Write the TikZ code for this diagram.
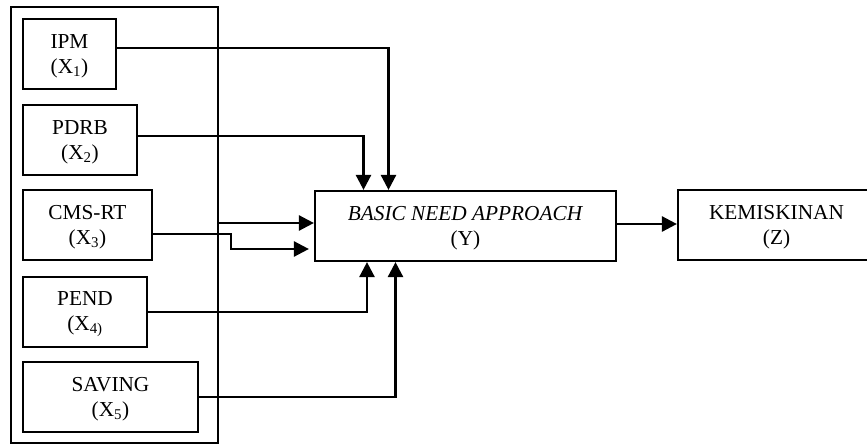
\documentclass[tikz,border=0pt]{standalone}
\usepackage{fontspec}
\setmainfont{Liberation Serif}
\usetikzlibrary{arrows.meta}
\newcommand{\topstrut}{\rule{0pt}{18.5pt}}
\begin{document}
\begin{tikzpicture}[x=1pt,y=-1pt,
  box/.style={draw,line width=1.6pt,inner sep=0pt,align=center,font=\fontsize{21.3}{25.3}\selectfont},
  bigbox/.style={box,line width=2.2pt},
  conn/.style={line width=2.6pt},
  arr/.style={conn,-{Triangle[length=15pt,width=15pt]}}]
\clip (0,0) rectangle (867,444);
\node[draw,line width=2.2pt,minimum width=207pt,minimum height=436pt,inner sep=0pt] (frame) at (114.5,225) {};
\node[box,minimum width=93pt,minimum height=70pt] (ipm) at (69.5,54) {\topstrut IPM\\(X\textsubscript{1})};
\node[box,minimum width=114pt,minimum height=70pt] (pdrb) at (80,140) {\topstrut PDRB\\(X\textsubscript{2})};
\node[box,minimum width=129pt,minimum height=70pt] (cms) at (87.5,225) {\topstrut CMS-RT\\(X\textsubscript{3})};
\node[box,minimum width=124pt,minimum height=70pt] (pend) at (85,312) {\topstrut PEND\\(X\textsubscript{4)}};
\node[box,minimum width=175pt,minimum height=70pt] (saving) at (110.5,397) {\topstrut SAVING\\(X\textsubscript{5})};
\node[bigbox,minimum width=301pt,minimum height=70pt] (bna) at (465.5,226) {\topstrut\textit{BASIC NEED APPROACH}\\(Y)};
\node[bigbox,minimum width=197pt,minimum height=70pt] (kem) at (776.5,225) {\topstrut KEMISKINAN\\(Z)};
\draw[arr] (ipm.east |- 0,48) -| (bna.north -| 388.5,0);
\draw[arr] (pdrb.east |- 0,136) -| (bna.north -| 363.5,0);
\draw[arr] (frame.east |- 0,223) -- (bna.west |- 0,223);
\coordinate (c1) at (231,234);
\coordinate (c2) at (231,249);
\draw[arr,shorten >=5pt] (cms.east |- c1) -- (c1) -- (c2) -- (bna.west |- c2);
\draw[arr] (pend.east) -| (bna.south -| 367,0);
\draw[arr] (saving.east) -| (bna.south -| 395.5,0);
\draw[arr] (bna.east |- 0,224) -- (kem.west |- 0,224);
\end{tikzpicture}
\end{document}
